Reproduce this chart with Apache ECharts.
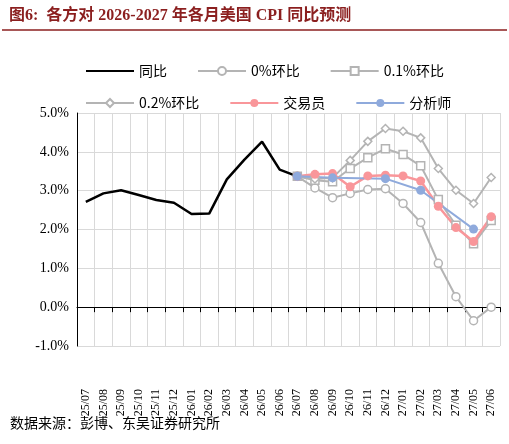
<!DOCTYPE html>
<html><head><meta charset="utf-8">
<script src="https://cdn.jsdelivr.net/npm/echarts@6/dist/echarts.min.js"></script>
<style>body{margin:0;background:#fff}#main{width:509px;height:444px}</style>
</head><body><div id="main"></div>
<script>
// 月份
var months = ['25/07','25/08','25/09','25/10','25/11','25/12','26/01','26/02','26/03','26/04','26/05','26/06',
  '26/07','26/08','26/09','26/10','26/11','26/12','27/01','27/02','27/03','27/04','27/05','27/06'];
var yoy = [2.71,2.93,3.01,2.89,2.76,2.69,2.40,2.41,3.29,3.80,4.26,3.54,3.37,null,null,null,null,null,null,null,null,null,null,null];
var mom0 = [null,null,null,null,null,null,null,null,null,null,null,null,3.37,3.07,2.82,2.93,3.03,3.05,2.67,2.18,1.13,0.27,-0.35,0.0];
var mom01 = [null,null,null,null,null,null,null,null,null,null,null,null,3.37,3.27,3.23,3.57,3.85,4.08,3.93,3.64,2.77,2.11,1.63,2.23];
var mom02 = [null,null,null,null,null,null,null,null,null,null,null,null,3.37,3.30,3.33,3.78,4.27,4.60,4.53,4.36,3.57,3.01,2.67,3.34];
var trader = [null,null,null,null,null,null,null,null,null,null,null,null,3.37,3.42,3.44,3.10,3.38,3.40,3.38,3.25,2.60,2.05,1.69,2.33];
var analyst = [null,null,null,null,null,null,null,null,null,null,null,null,3.37,null,3.33,null,null,3.31,null,3.01,null,null,2.01,null];

var font = '"Noto Sans CJK SC", "Liberation Serif", serif';
var myChart = echarts.init(document.getElementById('main'));
function grey(name, data, sym){
  return {name:name,type:'line',data:data,symbol:sym,symbolSize:8,
    lineStyle:{color:'#b4b4b4',width:2},itemStyle:{color:'#fff',borderColor:'#b4b4b4',borderWidth:1.5}};
}
var legendBase = {itemWidth:48,itemHeight:10,itemGap:30,textStyle:{fontFamily:font,fontSize:14,color:'#000'}};
var option = {
  animation:false,
  title:{text:'图6:  各方对 2026-2027 年各月美国 CPI 同比预测',left:4,top:3,
    textStyle:{fontFamily:'"Liberation Serif", "Noto Sans CJK SC", serif',fontSize:16,fontWeight:'bold',color:'#8b1f1f'}},
  graphic:[
    {type:'line',shape:{x1:2,y1:30,x2:507,y2:30},style:{stroke:'#8b1f1f',lineWidth:1.5}},
    {type:'text',left:10,top:416,style:{text:'数据来源：彭博、东吴证券研究所',font:'14px "Noto Sans CJK SC"',fill:'#000'}}
  ],
  legend:[
    Object.assign({left:80,top:59,data:[{name:'同比',itemStyle:{opacity:0}},'0%环比','0.1%环比']},legendBase),
    Object.assign({left:80,top:91,data:['0.2%环比','交易员','分析师']},legendBase)
  ],
  grid:{left:77,right:9,top:113,bottom:98},
  xAxis:{type:'category',data:months,boundaryGap:true,
    axisLine:{onZero:true,lineStyle:{color:'#000'}},axisTick:{show:true,lineStyle:{color:'#000'}},
    splitLine:{show:true,lineStyle:{color:'#d9d9d9'}},
    axisLabel:{rotate:90,interval:0,fontFamily:'"Liberation Serif", serif',fontSize:12,color:'#000',margin:43}},
  yAxis:{type:'value',min:-1,max:5,interval:1,
    axisLine:{show:true,lineStyle:{color:'#000'}},axisTick:{show:false},
    splitLine:{lineStyle:{color:'#d9d9d9'}},
    axisLabel:{formatter:function(v){return v.toFixed(1)+'%';},fontFamily:'"Liberation Serif", serif',fontSize:14,color:'#000'}},
  series:[
    {name:'同比',type:'line',data:yoy,symbol:'none',lineStyle:{color:'#000',width:2.5},itemStyle:{color:'#000'}},
    grey('0%环比',mom0,'circle'),
    grey('0.1%环比',mom01,'rect'),
    grey('0.2%环比',mom02,'diamond'),
    {name:'交易员',type:'line',data:trader,symbol:'circle',symbolSize:9,
      lineStyle:{color:'#f9969a',width:2.5},itemStyle:{color:'#f9969a'}},
    {name:'分析师',type:'line',data:analyst,connectNulls:true,symbol:'circle',symbolSize:9,
      lineStyle:{color:'#8faadc',width:2},itemStyle:{color:'#8faadc'}}
  ]
};
myChart.setOption(option);
</script></body></html>
